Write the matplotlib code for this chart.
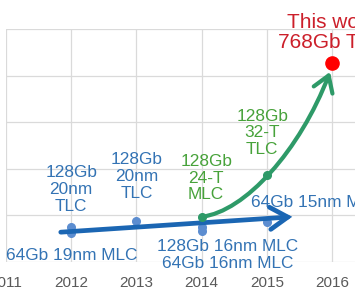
import matplotlib
matplotlib.use("Agg")
import matplotlib.pyplot as plt
from matplotlib.patches import FancyArrowPatch
from matplotlib.path import Path

plt.rcParams['font.family'] = ['Liberation Sans', 'DejaVu Sans']

# ---- data ----
years = [2011, 2012, 2013, 2014, 2015, 2016]
tick_labels = ['2011', '2012', '2013', '2014', '2015', '2016']

blue_x = [2012, 2012, 2013, 2014, 2014, 2015]
blue_y = [0.75, 0.62, 0.88, 0.75, 0.66, 0.86]

green_x = [2014, 2015]
green_y = [0.97, 1.87]

red_x = [2016]
red_y = [4.27]

blue_arrow_start = (2011.84, 0.64)
blue_arrow_end = (2015.39, 0.97)
green_arrow_end = (2015.97, 4.08)

blue_labels = [
    (2012.0, 1.55, '128Gb\n20nm\nTLC', 'center'),
    (2013.0, 1.83, '128Gb\n20nm\nTLC', 'center'),
    (2012.01, 0.15, '64Gb 19nm MLC', 'center'),
    (2014.40, 0.15, '128Gb 16nm MLC\n64Gb 16nm MLC', 'center'),
    (2014.76, 1.27, '64Gb 15nm MLC', 'left'),
]
green_labels = [
    (2014.07, 1.80, '128Gb\n24-T\nMLC'),
    (2014.93, 2.77, '128Gb\n32-T\nTLC'),
]
red_label = (2016.0, 4.93, 'This work\n768Gb TLC')

# ---- colours ----
c_blue_text = '#3373B4'
c_blue_line = '#1B66B3'
c_blue_dot = '#5C8DD0'
c_green_text = '#47A23A'
c_green_line = '#2E9A68'
c_red_text = '#CC1F2A'
c_red_dot = '#FF0000'

W, H = 355, 300
fig = plt.figure(figsize=(W / 100, H / 100), dpi=100)
px_per_year = 65.2
ax = fig.add_axes([6 / W, 38 / H, 6 * px_per_year / W, 233 / H])
ax.set_xlim(2011, 2017)
ax.set_ylim(0, 5)
for s in ax.spines.values():
    s.set_visible(False)
ax.set_xticks(years)
ax.set_xticklabels(tick_labels)
ax.set_yticks([0, 1, 2, 3, 4, 5])
ax.set_yticklabels([])
ax.tick_params(axis='both', length=0)
ax.tick_params(axis='x', labelsize=11, labelcolor='#595959', pad=10)
ax.grid(True, color='#DADADA', linewidth=0.9)
ax.set_axisbelow(True)

# blue dots (below arrow)
ax.plot(blue_x, blue_y, 'o', color=c_blue_dot, markersize=5.5, zorder=2)

# blue arrow
ax.add_patch(FancyArrowPatch(blue_arrow_start, blue_arrow_end,
                             arrowstyle='->,head_length=0.8,head_width=0.5',
                             mutation_scale=16,
                             color=c_blue_line, linewidth=3.4,
                             shrinkA=0, shrinkB=0, zorder=3,
                             capstyle='round', joinstyle='miter'))

# green curved arrow (cubic Bezier from 2014 point to end)
p0 = (green_x[0], green_y[0])
p3 = green_arrow_end
c1 = (p0[0] + 0.67, p0[1] + 0.11)
c2 = (p3[0] - 0.46, p3[1] - 1.68)
gpath = Path([p0, c1, c2, p3], [Path.MOVETO, Path.CURVE4, Path.CURVE4, Path.CURVE4])
ax.add_patch(FancyArrowPatch(path=gpath,
                             arrowstyle='->,head_length=0.7,head_width=0.45',
                             mutation_scale=16,
                             color=c_green_line, linewidth=3.0,
                             shrinkA=0, shrinkB=0, zorder=4))
ax.plot(green_x, green_y, 'o', color=c_green_line, markersize=5.5, zorder=5)

# red point
ax.plot(red_x, red_y, 'o', color=c_red_dot, markersize=9.5, zorder=6,
        clip_on=False)

for x, y, t, ha in blue_labels:
    ax.text(x, y, t, color=c_blue_text, fontsize=12.4, ha=ha, va='center',
            linespacing=1.15, zorder=7, clip_on=False)
for x, y, t in green_labels:
    ax.text(x, y, t, color=c_green_text, fontsize=12.4, ha='center',
            va='center', linespacing=1.15, zorder=7, clip_on=False)
ax.text(red_label[0], red_label[1], red_label[2], color=c_red_text,
        fontsize=15, ha='center', va='center', linespacing=1.1, zorder=7,
        clip_on=False)

fig.savefig('out.png', dpi=100)
